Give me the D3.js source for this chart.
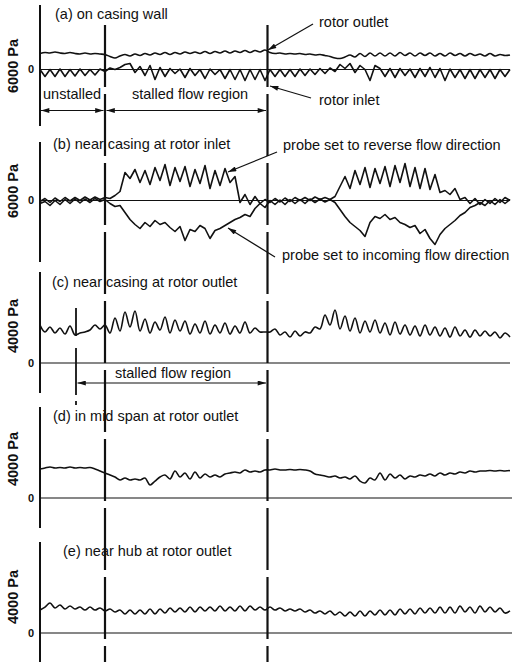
<!DOCTYPE html>
<html><head><meta charset="utf-8">
<script src="https://cdn.jsdelivr.net/npm/d3@7"></script>
<style>
html,body{margin:0;padding:0;background:#fff;}
svg{display:block;}
text{font-family:"Liberation Sans",Arial,Helvetica,sans-serif;fill:#111;}
</style></head>
<body>
<svg id="chart" width="515" height="664"></svg>
<script>
// ---- data (pressure in Pa, uniform time samples) ----
const sampleCount = 95;
const stallStart = 13.0;   // sample index of stall onset marker
const stallEnd = 45.5;     // sample index of stall end marker
const stallOnsetOutlet = 7.2; // sample index of first marker in panel (c)

const casingOutlet = [1600,1700,1650,1750,1650,1600,1700,1600,1550,1650,
 1550,1600,1550,1500,1300,1150,1350,1500,1350,1550,
 1400,1600,1450,1650,1500,1700,1500,1700,1550,1750,
 1600,1750,1600,1800,1600,1800,1650,1850,1650,1850,
 1700,1900,1700,1900,1750,1950,1700,1600,1650,1550,
 1600,1550,1600,1500,1550,1450,1500,1400,1300,1150,
 1100,1250,1450,1250,1600,1300,1650,1350,1650,1350,
 1650,1350,1700,1400,1650,1350,1650,1400,1650,1350,
 1600,1350,1650,1400,1600,1350,1600,1400,1550,1350,
 1600,1350,1500,1400,1450];
const casingInlet = [0,-700,0,-700,50,-700,0,-650,50,-600,
 0,-550,50,-200,150,0,200,500,600,-300,
 300,-600,400,-1000,200,-700,100,-400,50,-800,
 100,-600,0,-900,50,-500,0,-900,0,-1000,
 0,-1100,0,-1000,0,-1100,0,-700,0,-700,
 0,-700,50,-600,50,-500,100,-400,150,-200,
 500,100,600,-300,400,0,-1100,400,100,-700,
 100,-800,100,-600,50,-800,100,-700,200,-800,
 100,-1100,50,-800,0,-900,0,-900,0,-800,
 0,-900,0,-700,0];
const probeReverse = [-100,200,-200,250,-100,300,-50,300,0,350,
 50,350,100,300,200,500,900,2800,2200,3100,
 1800,3000,1600,3300,2000,3600,1500,3300,1900,3400,
 1400,3100,1700,3500,1200,3000,1500,3200,1800,2400,
 -200,600,-400,400,-300,100,-200,200,-150,250,
 -100,300,0,300,0,350,100,300,100,400,
 1400,2400,1200,3000,1600,3300,1300,3200,1700,3400,
 1400,3500,1800,3700,1400,3300,1200,3200,1100,2600,
 800,1000,600,1200,100,300,-300,200,-400,100,
 -300,200,-200,300,0];
const probeIncoming = [-300,-100,-500,0,-400,100,-300,150,-250,150,
 -200,200,-100,100,-300,-600,-500,-1200,-1900,-2400,
 -2800,-2200,-2600,-2000,-2400,-2200,-2700,-3100,-2600,-4000,
 -2900,-3100,-2500,-2800,-3800,-3000,-2800,-2500,-2200,-1900,
 -1700,-1400,-1600,-800,-300,-700,0,-400,50,-400,
 100,-300,100,-300,150,-200,150,-150,100,-200,
 -900,-1600,-2200,-2600,-3000,-3600,-2200,-1600,-1800,-1400,
 -1900,-1700,-2200,-2400,-2700,-2500,-3300,-2900,-3800,-4400,
 -3400,-2800,-2400,-2000,-1500,-1200,-700,-500,-200,-500,
 0,-400,100,-300,100];
const casingOutletNear = [2530,2070,2400,2000,2330,1930,2470,1870,2000,2070,
 2200,2530,2270,2530,2000,3000,2130,3400,2400,3470,
 2130,2930,2000,2730,2200,3070,2000,2870,2130,2800,
 1930,2600,2000,2800,1930,2530,2000,2670,1930,2470,
 2000,2730,2000,2330,2070,2070,2070,2270,1870,2070,
 1730,2130,1800,2070,2000,2400,2270,3200,2530,3530,
 2270,3130,2130,3000,2000,2800,2070,2870,2000,2670,
 1870,2730,1930,2530,1870,2470,1800,2530,1870,2400,
 1800,2330,1730,2400,1800,2200,1730,2200,1800,2130,
 1800,2070,1670,2000,1730];
const midSpanOutlet = [1930,2000,2070,2000,2030,2000,2070,2000,2030,2000,
 2030,1930,1800,1670,1530,1400,1200,1330,1200,1270,
 1200,1330,870,1130,1400,1530,1270,1800,1400,1670,
 1270,1730,1330,1600,1400,1530,1400,1600,1670,1730,
 1670,1870,1730,1800,1730,1870,1870,1930,1870,1870,
 1900,1870,1900,1870,1800,1600,1530,1470,1400,1470,
 1330,1400,1270,1470,1130,1000,1330,1200,1670,1200,
 1600,1330,1530,1270,1470,1400,1530,1470,1600,1470,
 1670,1530,1670,1600,1730,1670,1800,1730,1800,1800,
 1830,1800,1830,1800,1830];
const hubOutlet = [1530,1730,2000,1670,1870,1600,1800,1600,1730,1530,
 1730,1530,1670,1470,1600,1400,1530,1270,1530,1270,
 1530,1270,1600,1270,1600,1330,1670,1400,1670,1400,
 1730,1400,1730,1470,1730,1470,1800,1470,1730,1470,
 1800,1470,1800,1530,1730,1530,1730,1530,1670,1470,
 1600,1470,1600,1400,1530,1330,1470,1270,1470,1200,
 1400,1130,1400,1130,1470,1130,1470,1200,1530,1200,
 1530,1200,1600,1270,1600,1270,1670,1330,1670,1330,
 1730,1330,1730,1330,1800,1400,1730,1330,1800,1400,
 1730,1400,1670,1330,1470];

const panelTitles = ["(a) on casing wall","(b) near casing at rotor inlet","(c) near casing at rotor outlet","(d) in mid span at rotor outlet","(e) near hub at rotor outlet"];
const unitLabels = ["6000 Pa","6000 Pa","4000 Pa","4000 Pa","4000 Pa"];
const unitValues = [6000,6000,4000,4000,4000];
const panelSeries = [[casingOutlet,casingInlet],[probeReverse,probeIncoming],[casingOutletNear],[midSpanOutlet],[hubOutlet]];
const smoothSeries = [casingOutlet, casingOutletNear, midSpanOutlet, hubOutlet];

// ---- layout ----
const layout = [
  {top:5,   bottom:126, zero:69.5, unitY:66,  titleX:55, titleY:19,  zeroEnd:510},
  {top:142, bottom:262, zero:200.5,unitY:191, titleX:53, titleY:149, zeroEnd:510},
  {top:272, bottom:393, zero:363,  unitY:326, titleX:52, titleY:287, zeroEnd:510},
  {top:407, bottom:528, zero:498,  unitY:459, titleX:53, titleY:421, zeroEnd:512},
  {top:542, bottom:662, zero:633,  unitY:597, titleX:63, titleY:556, zeroEnd:512}
];
const svg = d3.select("#chart");
const x = d3.scaleLinear().domain([0, sampleCount-1]).range([40, 510]);
const ink = "#111";
const fs = 14.5;

const defs = svg.append("defs");
defs.append("marker").attr("id","ah").attr("viewBox","0 0 10 6").attr("refX",10).attr("refY",3)
  .attr("markerWidth",9).attr("markerHeight",5).attr("markerUnits","userSpaceOnUse").attr("orient","auto-start-reverse")
  .append("path").attr("d","M0,0 L10,3 L0,6 Z").attr("fill",ink);

layout.forEach((p,k)=>{
  const g = svg.append("g");
  const y = d3.scaleLinear().domain([0, unitValues[k]]).range([p.zero, p.zero-60]);
  g.append("line").attr("x1",40).attr("x2",40).attr("y1",p.top).attr("y2",p.bottom)
    .attr("stroke",ink).attr("stroke-width",2);
  g.append("line").attr("x1",40).attr("x2",p.zeroEnd).attr("y1",y(0)).attr("y2",y(0))
    .attr("stroke",ink).attr("stroke-width",1.1);
  g.append("text").attr("x",31).attr("y",y(0)).attr("dy","0.36em").attr("text-anchor","middle")
    .attr("font-size",11).attr("font-weight","bold").text("0");
  g.append("text").attr("transform",`translate(18,${p.unitY}) rotate(-90)`).attr("text-anchor","middle")
    .attr("font-size",14.5).attr("font-weight","bold").text(unitLabels[k]);
  g.append("text").attr("x",p.titleX).attr("y",p.titleY).attr("font-size",fs).text(panelTitles[k]);
  panelSeries[k].forEach(s=>{
    const line = d3.line().x((d,i)=>x(i)).y(d=>y(d))
      .curve(smoothSeries.includes(s) ? d3.curveCatmullRom.alpha(0.5) : d3.curveLinear);
    g.append("path").datum(s).attr("d",line).attr("fill","none").attr("stroke",ink)
      .attr("stroke-width",1.6).attr("stroke-linejoin","round");
  });
});

// stall markers (dashed verticals)
[stallStart, stallEnd].forEach(t=>{
  svg.append("line").attr("x1",x(t)).attr("x2",x(t)).attr("y1",25).attr("y2",662)
    .attr("stroke",ink).attr("stroke-width",2.2).attr("stroke-dasharray","62,7");
});
// panel (c) extra marker
const xc = x(stallOnsetOutlet);
svg.append("line").attr("x1",xc).attr("x2",xc).attr("y1",308).attr("y2",336).attr("stroke",ink).attr("stroke-width",1.8);
svg.append("line").attr("x1",xc).attr("x2",xc).attr("y1",348).attr("y2",395).attr("stroke",ink).attr("stroke-width",1.8);
svg.append("line").attr("x1",xc).attr("x2",xc).attr("y1",401).attr("y2",405).attr("stroke",ink).attr("stroke-width",1.8);

// double arrows
function dArrow(x1,x2,yy){
  svg.append("line").attr("x1",x1).attr("x2",x2).attr("y1",yy).attr("y2",yy).attr("stroke",ink).attr("stroke-width",1.2)
    .attr("marker-start","url(#ah)").attr("marker-end","url(#ah)");
}
dArrow(41, x(stallStart)-1.5, 110.5);
dArrow(x(stallStart)+1.5, x(stallEnd)-1.5, 110.5);
dArrow(xc+1.5, x(stallEnd)-1.5, 383);

// annotations
function note(txt,tx,ty){ svg.append("text").attr("x",tx).attr("y",ty).attr("font-size",fs).text(txt); }
function pointer(x1,y1,x2,y2){
  svg.append("line").attr("x1",x1).attr("y1",y1).attr("x2",x2).attr("y2",y2).attr("stroke",ink).attr("stroke-width",1.2)
    .attr("marker-end","url(#ah)");
}
note("unstalled",43,99);
note("stalled flow region",132,99);
note("rotor outlet",319,27);
pointer(313,24,268,50);
note("rotor inlet",319,105);
pointer(311,98,270,86);
note("probe set to reverse flow direction",283,150);
pointer(277,152,228,172);
note("probe set to incoming flow direction",282,260);
pointer(275,257,228,228);
note("stalled flow region",115,378);
</script>
</body></html>
